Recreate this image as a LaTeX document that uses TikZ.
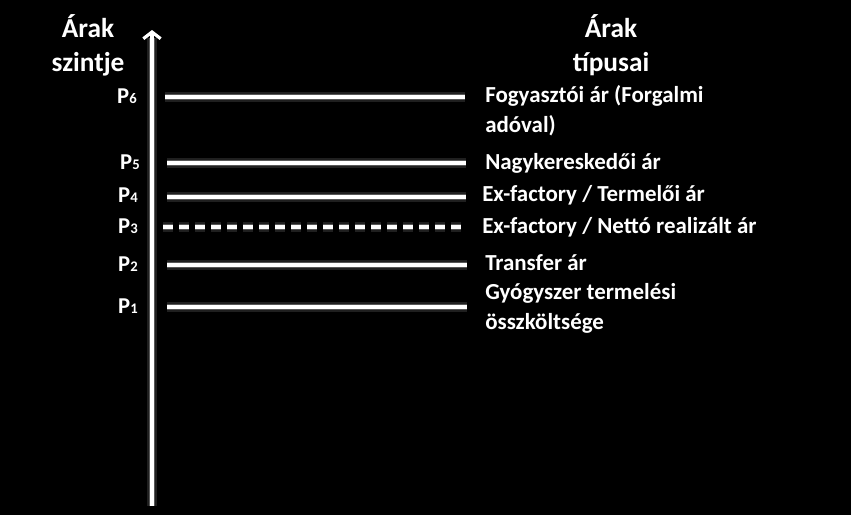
\documentclass[tikz,border=0pt]{standalone}
\usepackage{fontspec}
\setmainfont{Carlito}[BoldFont={Carlito Bold}]
\usetikzlibrary{arrows.meta}
\newcommand{\subd}[1]{{\fontsize{11pt}{11pt}\selectfont #1}}
\begin{document}
\begin{tikzpicture}[x=0.75pt,y=-0.75pt,
  lbl/.style={text=white,font=\bfseries\fontsize{17.2pt}{22pt}\selectfont,inner sep=0pt,align=left},
  ttl/.style={text=white,font=\bfseries\fontsize{20.5pt}{25.5pt}\selectfont,inner sep=0pt,align=center},
  plbl/.style={text=white,font=\bfseries\fontsize{17pt}{19pt}\selectfont,inner sep=0pt,anchor=base east},
  glowa/.style={draw=white,line width=7.5pt,opacity=0.12},
  glowb/.style={draw=white,line width=5pt,opacity=0.25},
  lvl/.style={draw=white,line width=3pt},
  lvldash/.style={draw=white,line width=3pt,dash pattern=on 7.5pt off 4.5pt},
  axis/.style={draw=white,line width=2.4pt,-{Straight Barb[length=5pt,width=13pt,line width=2.4pt]}}
]
\fill[black] (0,0) rectangle (851,515);
\useasboundingbox (0,0) rectangle (851,515);
% titles (base = baseline of last line)
\node[ttl,anchor=base] (lt) at (88,71) {Árak\\szintje};
\node[ttl,anchor=base] (rt) at (611,71) {Árak\\típusai};
% axis
\coordinate (ab) at (152,506);
\coordinate (at) at (152,30);
\draw[glowa] (ab) -- ([yshift=-6]at);
\draw[glowb] (ab) -- ([yshift=-6]at);
\draw[axis] (ab) -- (at);
% levels
\coordinate (p6a) at (165,97);  \coordinate (p6b) at (465,97);
\coordinate (p5a) at (167,163); \coordinate (p5b) at (466,163);
\coordinate (p4a) at (167,197); \coordinate (p4b) at (466,197);
\coordinate (p3a) at (163,227); \coordinate (p3b) at (462,227);
\coordinate (p2a) at (167,265); \coordinate (p2b) at (467,265);
\coordinate (p1a) at (167,307); \coordinate (p1b) at (467,307);
\foreach \p in {p6,p5,p4,p2,p1}{\draw[glowa] (\p a) -- (\p b); \draw[glowb] (\p a) -- (\p b);}
\draw[glowa,dash pattern=on 7.5pt off 4.5pt] (p3a) -- (p3b);
\draw[glowb,dash pattern=on 7.5pt off 4.5pt] (p3a) -- (p3b);
\foreach \p in {p6,p5,p4,p2,p1}{\draw[lvl] (\p a) -- (\p b);}
\draw[lvldash] (p3a) -- (p3b);
% P labels
\node[plbl] (l6) at (137,103) {P\subd{6}};
\node[plbl] (l5) at (140,169) {P\subd{5}};
\node[plbl] (l4) at (138,202) {P\subd{4}};
\node[plbl] (l3) at (138,233) {P\subd{3}};
\node[plbl] (l2) at (138,271) {P\subd{2}};
\node[plbl] (l1) at (138,313) {P\subd{1}};
% right labels
\node[lbl,anchor=base west] (r6) at (485,132) {Fogyasztói ár (Forgalmi\\adóval)};
\node[lbl,anchor=base west] (r5) at (485,169) {Nagykereskedői ár};
\node[lbl,anchor=base west] (r4) at (482,201) {Ex-factory / Termelői ár};
\node[lbl,anchor=base west] (r3) at (482,233) {Ex-factory / Nettó realizált ár};
\node[lbl,anchor=base west] (r2) at (485,270) {Transfer ár};
\node[lbl,anchor=base west] (r1) at (485,329) {Gyógyszer termelési\\összköltsége};
\end{tikzpicture}
\end{document}
